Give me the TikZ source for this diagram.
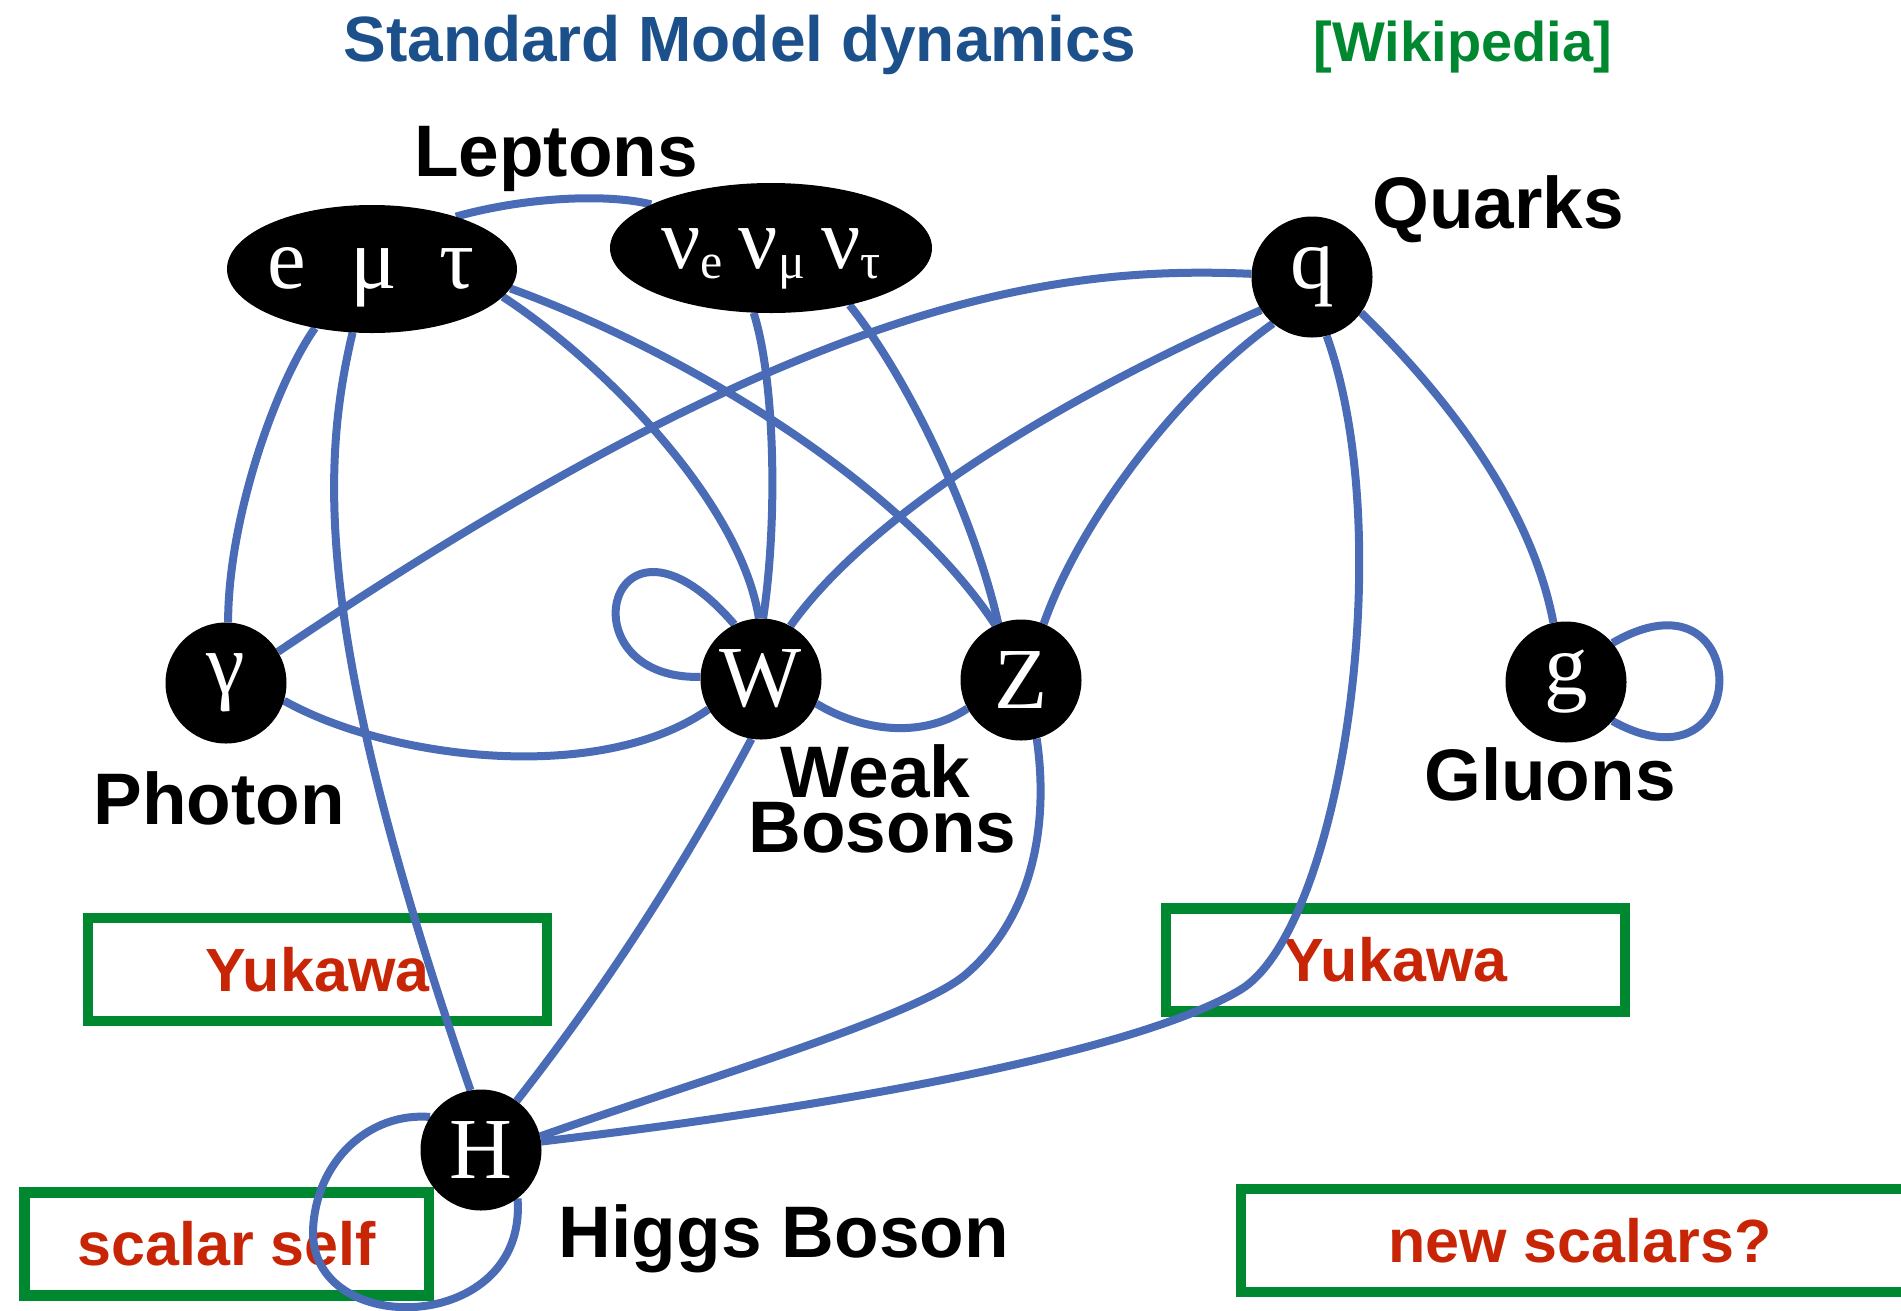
\documentclass[tikz,border=0pt]{standalone}
\usepackage{fontspec}
\setmainfont{Liberation Sans}
\newfontfamily\serifp{Liberation Serif}
\usetikzlibrary{shapes.geometric}
\pgfdeclarelayer{boxes}
\pgfdeclarelayer{edges}
\pgfsetlayers{boxes,edges,main}
\definecolor{linkblue}{RGB}{74,107,181}
\definecolor{boxgreen}{RGB}{0,136,48}
\definecolor{redtxt}{RGB}{200,36,6}
\definecolor{titleblue}{RGB}{28,80,138}
\newcommand\psub[1]{\raisebox{-10pt}{\fontsize{50}{50}\selectfont #1}}
\tikzset{
  particle/.style={circle, fill=black, minimum size=121pt, inner sep=0pt, text=white,
    font=\serifp\fontsize{87}{87}\selectfont},
  lepshape/.style={ellipse, fill=black, inner sep=0pt},
  lepname/.style={anchor=base, inner sep=0pt, text=white, font=\serifp\fontsize{87}{87}\selectfont},
  lbl/.style={anchor=base, inner sep=0pt, font=\bfseries\fontsize{73}{73}\selectfont},
  redbox/.style={draw=boxgreen, line width=10.5pt, text=redtxt, inner sep=0pt,
    minimum height=103pt, font=\bfseries\fontsize{61}{61}\selectfont},
  link/.style={draw=linkblue, line width=8pt},
}
\begin{document}
\begin{tikzpicture}[x=1pt,y=-1pt]
\useasboundingbox (0,0) rectangle (1901,1310);

% particle nodes
\node[lepshape, minimum width=290pt, minimum height=128pt] (lep) at (372,269) {};
\node[lepshape, minimum width=322pt, minimum height=130pt] (nu) at (771,248) {};
\node[lepname] (leptxt) at (371,288) {e\hspace{44pt}μ\hspace{42pt}τ};
\node[lepname] (nutxt) at (771,268) {ν\psub{e}\hspace{16pt}ν\psub{μ}\hspace{16pt}ν\psub{τ}};
\node[particle] (q) at (1312,277) {q};
\node[particle] (gam) at (226,683) {γ};
\node[particle] (W) at (761,679) {W};
\node[particle] (Z) at (1021,680) {Z};
\node[particle] (g) at (1566,682) {g};
\node[particle] (H) at (481,1150) {H};

% labels
\node[anchor=base, inner sep=0pt, text=titleblue, font=\bfseries\fontsize{64}{64}\selectfont] (title) at (740,61) {Standard Model dynamics};
\node[anchor=base, inner sep=0pt, text=boxgreen, font=\bfseries\fontsize{56}{56}\selectfont] (wiki) at (1463,61) {[Wikipedia]};
\node[lbl] (leptons) at (556,176) {Leptons};
\node[lbl] (quarks) at (1498,228) {Quarks};
\node[lbl] (photon) at (219,824) {Photon};
\node[lbl] (weak) at (875.5,797) {Weak};
\node[lbl] (bosons) at (882.5,852) {Bosons};
\node[lbl] (gluons) at (1550,800) {Gluons};
\node[lbl] (higgs) at (784,1257) {Higgs Boson};

% boxes
\begin{pgfonlayer}{boxes}
\node[redbox, minimum width=459pt] (yukL) at (317.5,969.5) {Yukawa};
\node[redbox, minimum width=459pt] (yukR) at (1395.5,960) {Yukawa};
\node[redbox, minimum width=404.5pt] (selfbox) at (226.75,1244) {scalar self};
\begin{scope}
\clip (0,0) rectangle (1901,1310);
\node[redbox, minimum width=678pt] (newbox) at (1580,1240.7) {new scalars?};
\end{scope}
\end{pgfonlayer}

% connectors
\begin{pgfonlayer}{edges}
\draw[link] (lep.32) .. controls (530,196) and (610,194) .. (nu.160);
\draw[link] (lep.226) .. controls (275,385) and (228,520) .. (gam.88);
\draw[link] (lep.253) .. controls (320,470) and (315,640) .. (H.100);
\draw[link] (lep.-12) .. controls (600,360) and (740,500) .. (W.92);
\draw[link] (lep.-8) .. controls (680,350) and (900,480) .. (Z.115);
\draw[link] (nu.255) .. controls (775,380) and (778,520) .. (W.88);
\draw[link] (nu.-36) .. controls (910,380) and (975,520) .. (Z.112);
\draw[link] (q.177) .. controls (1050,265) and (800,300) .. (gam.31);
\draw[link] (q.213) .. controls (1100,380) and (880,500) .. (W.61);
\draw[link] (q.230) .. controls (1180,390) and (1080,520) .. (Z.68);
\draw[link] (q.284) .. controls (1400,540) and (1340,930) .. (1240,990)
                    .. controls (1140,1050) and (850,1105) .. (H.8);
\draw[link] (q.-36) .. controls (1440,390) and (1530,500) .. (g.102);
\draw[link] (g.40) .. controls (1755,560) and (1755,800) .. (g.-40);
\draw[link] (gam.-17) .. controls (390,760) and (600,785) .. (W.210);
\draw[link] (W.178) .. controls (560,680) and (610,480) .. (W.116);
\draw[link] (W.-24) .. controls (860,730) and (920,740) .. (Z.208);
\draw[link] (W.261) .. controls (684,866) and (606,987) .. (H.54);
\draw[link] (Z.285) .. controls (1050,830) and (1030,920) .. (965,975)
                    .. controls (915,1017) and (700,1080) .. (H.13);
\draw[link] (H.147) .. controls (370,1112) and (316,1160) .. (313,1230)
                    .. controls (310,1340) and (528,1335) .. (H.-53);
\end{pgfonlayer}
\end{tikzpicture}
\end{document}
